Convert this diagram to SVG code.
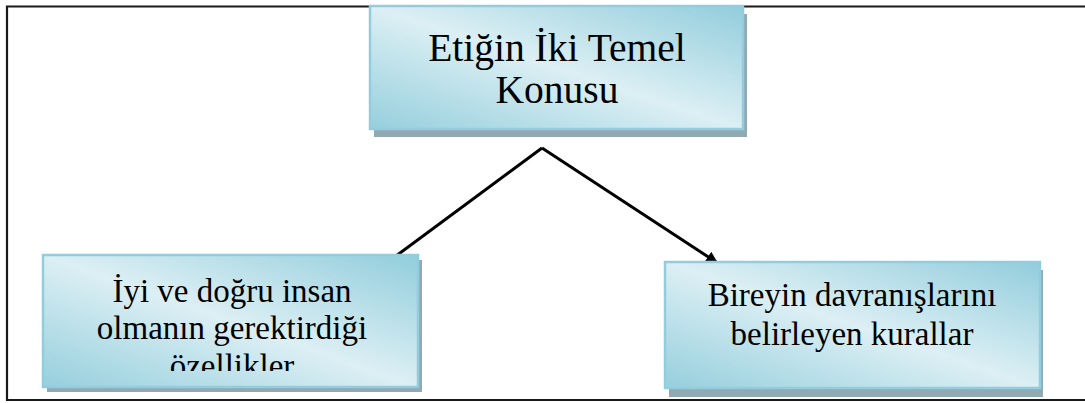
<svg xmlns="http://www.w3.org/2000/svg" width="1085" height="403" viewBox="0 0 1085 403">
<style>
.box{fill:url(#g);stroke:#93cddd;stroke-width:2.5}
.sh{fill:#91a9b3}
.t{font-family:'Liberation Serif','Times New Roman','DejaVu Serif',serif;fill:#000;text-anchor:middle}
.conn{stroke:#000;stroke-width:3;fill:none}
</style>
<defs>
<linearGradient id="g" x1="0" y1="1" x2="1" y2="0">
<stop offset="0" stop-color="#96cfdd"/>
<stop offset="0.5" stop-color="#dceff4"/>
<stop offset="1" stop-color="#92cddc"/>
</linearGradient>
<marker id="ah" viewBox="0 0 10 10" refX="8" refY="5" markerWidth="4" markerHeight="4" orient="auto" markerUnits="strokeWidth">
<path d="M0,0 L10,5 L0,10 z" fill="#000"/>
</marker>
<clipPath id="clipL"><rect x="43" y="255" width="376" height="116"/></clipPath>
</defs>
<rect x="0" y="0" width="1085" height="403" fill="#fff"/>
<path d="M1090,6.5 H7 V400 H1090" fill="none" stroke="#1a1a1a" stroke-width="2.2"/>
<g id="connectors">
<path class="conn" d="M542,148 L396,256"/>
<path class="conn" d="M542,148 L716,262" marker-end="url(#ah)"/>
</g>
<g id="node-top">
<rect class="sh" x="374" y="14" width="373" height="123"/>
<rect class="box" x="370" y="6" width="373" height="123"/>
<text class="t" x="557" y="61" font-size="39.5" font-family="Liberation Serif, serif">Etiğin İki Temel</text>
<text class="t" x="557" y="103" font-size="39.5" font-family="Liberation Serif, serif">Konusu</text>
</g>
<g id="node-left">
<rect class="sh" x="47" y="260" width="375" height="132"/>
<rect class="box" x="43" y="255" width="375" height="132"/>
<g clip-path="url(#clipL)">
<text class="t" x="232" y="302" font-size="33" font-family="Liberation Serif, serif">İyi ve doğru insan</text>
<text class="t" x="232" y="339" font-size="33" font-family="Liberation Serif, serif">olmanın gerektirdiği</text>
<text class="t" x="232" y="377" font-size="33" font-family="Liberation Serif, serif">özellikler</text>
</g>
</g>
<g id="node-right">
<rect class="sh" x="669" y="270" width="374" height="127"/>
<rect class="box" x="665" y="262" width="375" height="126"/>
<text class="t" x="852" y="306" font-size="33" font-family="Liberation Serif, serif">Bireyin davranışlarını</text>
<text class="t" x="852" y="345" font-size="33" font-family="Liberation Serif, serif">belirleyen kurallar</text>
</g>
</svg>
